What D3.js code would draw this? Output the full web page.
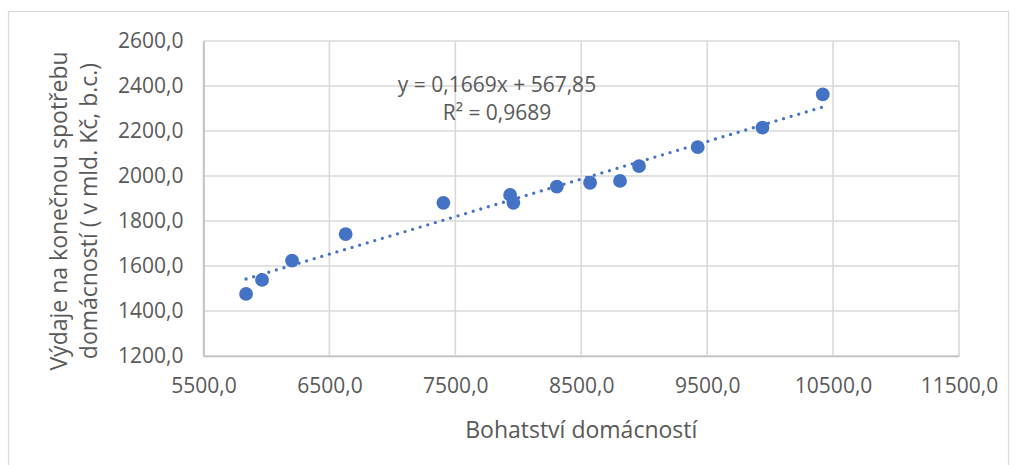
<!DOCTYPE html>
<html>
<head>
<meta charset="utf-8">
<script src="https://cdn.jsdelivr.net/npm/d3@7"></script>
<style>
  body { margin: 0; background: #fff; }
  text { font-family: "Open Sans", sans-serif; fill: #595959; }
</style>
</head>
<body>
<div id="viz"></div>
<script>
// bohatstvi domacnosti (x) vs vydaje na konecnou spotrebu (y)
var wealth = [5838, 5965, 6203, 6629, 7405, 7935, 7961, 8306, 8570, 8808, 8959, 9425, 9939, 10418],
    spending = [1476, 1538, 1624, 1742, 1881, 1916, 1881, 1953, 1970, 1978, 2044, 2128, 2215, 2363],
    xTicks = [5500, 6500, 7500, 8500, 9500, 10500, 11500],
    yTicks = [1200, 1400, 1600, 1800, 2000, 2200, 2400, 2600],
    trendSlope = 0.1669,
    trendIntercept = 567.85,
    eqLabel = 'y = 0,1669x + 567,85',
    r2Label = 'R² = 0,9689',
    xTitle = 'Bohatství domácností',
    yTitle = ['Výdaje na konečnou spotřebu', 'domácností ( v mld. Kč, b.c.)'];

var width = 1016,
    height = 465,
    margin = { top: 41, right: 57, bottom: 109, left: 203.5 },
    gridColor = '#d9d9d9',
    dotColor = '#4472c4';

var fmt = function(d) { return d3.format('.1f')(d).replace('.', ','); };

var xScale = d3.scaleLinear()
    .domain([5500, 11500])
    .range([margin.left, width - margin.right]);

var yScale = d3.scaleLinear()
    .domain([1200, 2600])
    .range([height - margin.bottom, margin.top]);

var svg = d3.select('#viz').append('svg')
    .attr('width', width)
    .attr('height', height);

// outer chart frame
svg.append('rect')
    .attr('x', 8.5).attr('y', 11.5)
    .attr('width', 1000).attr('height', 470)
    .attr('fill', 'none')
    .attr('stroke', '#d9d9d9')
    .attr('stroke-width', 1.2);

// grid
svg.append('g').selectAll('line').data(yTicks)
    .enter().append('line')
        .attr('x1', xScale(5500)).attr('x2', xScale(11500))
        .attr('y1', function(d) { return yScale(d); })
        .attr('y2', function(d) { return yScale(d); })
        .attr('stroke', gridColor)
        .attr('stroke-width', 1.6);

svg.append('g').selectAll('line').data(xTicks)
    .enter().append('line')
        .attr('y1', yScale(1200)).attr('y2', yScale(2600))
        .attr('x1', function(d) { return xScale(d); })
        .attr('x2', function(d) { return xScale(d); })
        .attr('stroke', gridColor)
        .attr('stroke-width', 1.6);

// axes (labels only, lines are the grid)
var xAxis = svg.append('g')
    .attr('transform', 'translate(0,' + yScale(1200) + ')')
    .call(d3.axisBottom(xScale).tickValues(xTicks).tickFormat(fmt).tickSize(0).tickPadding(22));
xAxis.select('.domain').attr('stroke', '#bfbfbf').attr('stroke-width', 1.6);
xAxis.selectAll('text').style('font-size', '21px').attr('fill', '#595959');

var yAxis = svg.append('g')
    .attr('transform', 'translate(' + xScale(5500) + ',0)')
    .call(d3.axisLeft(yScale).tickValues(yTicks).tickFormat(fmt).tickSize(0).tickPadding(20));
yAxis.select('.domain').attr('stroke', '#bfbfbf').attr('stroke-width', 1.6);
yAxis.selectAll('text').style('font-size', '21px').attr('fill', '#595959');

// trendline
var xr = d3.extent(wealth);
svg.append('line')
    .attr('x1', xScale(xr[0])).attr('y1', yScale(trendSlope * xr[0] + trendIntercept))
    .attr('x2', xScale(xr[1])).attr('y2', yScale(trendSlope * xr[1] + trendIntercept))
    .attr('stroke', dotColor)
    .attr('stroke-width', 3.3)
    .attr('stroke-linecap', 'round')
    .attr('stroke-dasharray', '0 7.9');

// points
svg.append('g').selectAll('circle').data(wealth)
    .enter().append('circle')
        .attr('cx', function(d) { return xScale(d); })
        .attr('cy', function(d, i) { return yScale(spending[i]); })
        .attr('r', 6.9)
        .attr('fill', dotColor);

// equation
svg.append('text')
    .attr('x', 497).attr('y', 92)
    .attr('text-anchor', 'middle')
    .style('font-size', '21px')
    .text(eqLabel);
svg.append('text')
    .attr('x', 497).attr('y', 120)
    .attr('text-anchor', 'middle')
    .style('font-size', '21px')
    .text(r2Label);

// titles
svg.append('text')
    .attr('x', (xScale(5500) + xScale(11500)) / 2).attr('y', 438)
    .attr('text-anchor', 'middle')
    .style('font-size', '23px')
    .text(xTitle);

svg.append('g')
    .attr('transform', 'translate(0,211) rotate(-90)')
    .selectAll('text').data(yTitle)
    .enter().append('text')
        .attr('x', 0)
        .attr('y', function(d, i) { return 67 + i * 30; })
        .attr('text-anchor', 'middle')
        .style('font-size', '23px')
        .text(function(d) { return d; });
</script>
</body>
</html>
